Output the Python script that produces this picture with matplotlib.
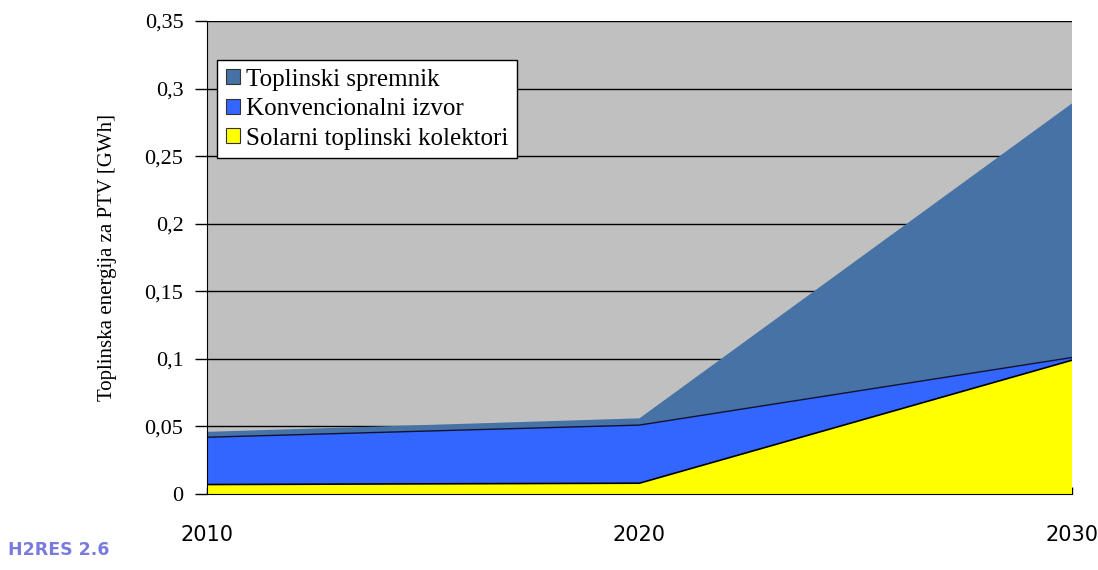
import numpy as np
import matplotlib
matplotlib.use('Agg')
import matplotlib.pyplot as plt
from matplotlib.ticker import FuncFormatter
from matplotlib.patches import Patch

# data (stacked layers, GWh)
years = [2010, 2020, 2030]
solar = [0.007, 0.008, 0.099]
konv = [0.035, 0.043, 0.002]
sprem = [0.004, 0.005, 0.188]
labels = ['Solarni toplinski kolektori', 'Konvencionalni izvor', 'Toplinski spremnik']
colors = ['#FFFF00', '#3366FF', '#4672A6']

plt.rcParams['font.family'] = ['Liberation Serif', 'DejaVu Serif']

fig = plt.figure(figsize=(10.98, 5.70), dpi=100)
ax = fig.add_axes([207 / 1098, 1 - 494 / 570, 865 / 1098, 473 / 570])
ax.set_facecolor('#C0C0C0')

ax.stackplot(years, solar, konv, sprem, colors=colors, linewidth=0, zorder=2)

# dark boundary lines between layers
s1 = np.array(solar)
s2 = s1 + np.array(konv)
ax.plot(years, s1, color='black', lw=1.2, zorder=3)
ax.plot(years, s2, color='#111133', lw=1.0, zorder=3)

ax.set_xlim(2010, 2030)
ax.set_ylim(0, 0.35)
ax.set_yticks(np.arange(0, 0.351, 0.05))
ax.yaxis.set_major_formatter(FuncFormatter(
    lambda v, p: '0' if abs(v) < 1e-9 else ('%g' % round(v, 2)).replace('.', ',')))
ax.grid(axis='y', color='black', lw=1.0, zorder=1)
ax.set_axisbelow(True)
ax.set_xticks(years)
ax.tick_params(axis='y', direction='out', length=9, width=1, labelsize=16, pad=8)
ax.tick_params(axis='x', direction='in', length=5, width=1, pad=22)
for lab in ax.get_xticklabels():
    lab.set_fontfamily('DejaVu Sans')
    lab.set_fontsize(15)

for side in ['top', 'right']:
    ax.spines[side].set_visible(False)
ax.spines['left'].set_color('black')
ax.spines['bottom'].set_color('black')
ax.spines['left'].set_zorder(4)
ax.spines['bottom'].set_zorder(4)

ax.set_ylabel('Toplinska energija za PTV [GWh]', fontsize=15, labelpad=20)

handles = [Patch(facecolor=colors[i], edgecolor='#333333', lw=0.8, label=labels[i]) for i in [2, 1, 0]]
leg = ax.legend(handles=handles, loc='upper left', bbox_to_anchor=(0.012, 0.918),
                frameon=True, fancybox=False, edgecolor='black', framealpha=1,
                fontsize=18, handlelength=0.55, handleheight=0.55, handletextpad=0.25,
                borderpad=0.35, labelspacing=0.3, borderaxespad=0)
leg.get_frame().set_linewidth(1.0)
leg.set_zorder(5)

fig.text(8 / 1098, 1 - 550 / 570, 'H2RES 2.6', color='#5a5ad8', fontsize=12.5,
         fontweight='bold', family='DejaVu Sans',
         va='center', ha='left', alpha=0.8)

fig.savefig('out.png', dpi=100)
